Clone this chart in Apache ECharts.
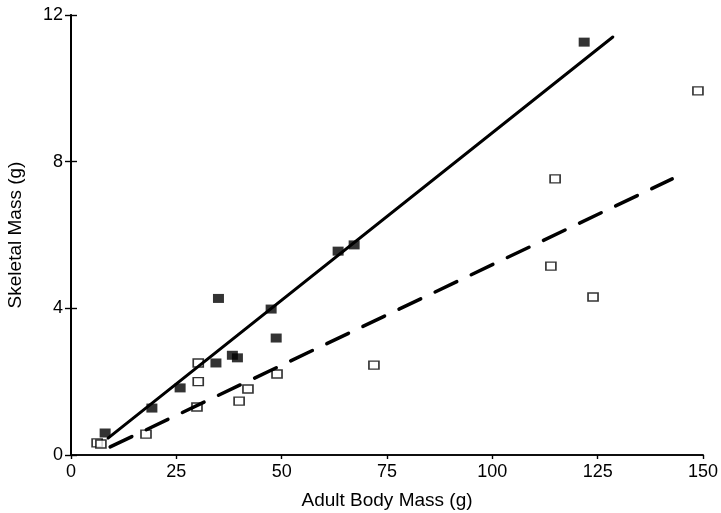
<!DOCTYPE html>
<html>
<head>
<meta charset="utf-8">
<script src="https://cdn.jsdelivr.net/npm/echarts@6/dist/echarts.min.js"></script>
<style>
  html, body { margin: 0; padding: 0; background: #fff; }
  #chart { width: 721px; height: 513px; }
</style>
</head>
<body>
<div id="chart"></div>
<script>
// filled squares, solid regression line
const filledMass = [8.1, 19.2, 25.9, 34.4, 35.0, 38.3, 39.5, 47.5, 48.7, 63.4, 67.2, 121.8];
const filledSkeleton = [0.60, 1.28, 1.83, 2.51, 4.27, 2.72, 2.65, 3.98, 3.19, 5.56, 5.73, 11.26];
// open squares, dashed regression line
const openMass = [6.2, 7.1, 17.8, 29.9, 30.2, 30.2, 39.9, 42.0, 48.9, 71.9, 113.9, 114.9, 123.9, 148.8];
const openSkeleton = [0.33, 0.30, 0.57, 1.31, 2.00, 2.51, 1.47, 1.80, 2.21, 2.45, 5.15, 7.53, 4.31, 9.93];
// fitted lines (end points)
const solidFitX = [8.8, 128.6];
const solidFitY = [0.46, 11.4];
const dashFitX = [9.3, 142.7];
const dashFitY = [0.22, 7.53];

const xTicks = [0, 25, 50, 75, 100, 125, 150];
const yTicks = [0, 4, 8, 12];

const zip = (xs, ys) => xs.map((x, i) => [x, ys[i]]);

const font = 'Liberation Sans, Arial, Helvetica, sans-serif';
const axisLine = { show: true, lineStyle: { color: '#000', width: 1.6 } };

const chart = echarts.init(document.getElementById('chart'));
chart.setOption({
  animation: false,
  backgroundColor: '#fff',
  grid: { left: 71, right: 18, top: 15, bottom: 58, outerBoundsMode: 'none', containLabel: false },
  xAxis: [
    {
      type: 'value',
      position: 'bottom',
      min: xTicks[0],
      max: xTicks[xTicks.length - 1],
      interval: 25,
      axisLine: axisLine,
      axisTick: { show: true, length: 4, lineStyle: { color: '#000', width: 1.4 } },
      axisLabel: { color: '#000', fontSize: 18, fontFamily: font, margin: 8 },
      splitLine: { show: false },
      name: 'Adult Body Mass (g)',
      nameLocation: 'middle',
      nameGap: 36,
      nameTextStyle: { color: '#000', fontSize: 19, fontFamily: font },
    },
    {
      type: 'value',
      position: 'top',
      min: 0,
      max: 150,
      interval: 25,
      axisLine: axisLine,
      axisTick: { show: false },
      axisLabel: { show: false },
      splitLine: { show: false },
    },
  ],
  yAxis: [
    {
      type: 'value',
      position: 'left',
      min: yTicks[0],
      max: yTicks[yTicks.length - 1],
      interval: 4,
      axisLine: { show: true, lineStyle: { color: '#000', width: 2 } },
      axisTick: { show: true, length: 6, lineStyle: { color: '#000', width: 1.4 } },
      axisLabel: { color: '#000', fontSize: 18, fontFamily: font, margin: 8 },
      splitLine: { show: false },
      name: 'Skeletal Mass (g)',
      nameLocation: 'middle',
      nameGap: 46,
      nameTextStyle: { color: '#000', fontSize: 19, fontFamily: font },
    },
    {
      type: 'value',
      position: 'right',
      min: 0,
      max: 12,
      interval: 4,
      axisLine: axisLine,
      axisTick: { show: true, length: 6, lineStyle: { color: '#000', width: 1.4 } },
      axisLabel: { show: false },
      splitLine: { show: false },
    },
  ],
  series: [
    {
      type: 'line',
      data: zip(solidFitX, solidFitY),
      showSymbol: false,
      lineStyle: { color: '#000', width: 3, cap: 'round' },
      silent: true,
    },
    {
      type: 'line',
      data: zip(dashFitX, dashFitY),
      showSymbol: false,
      lineStyle: { color: '#000', width: 3.5, type: [24, 16], cap: 'round' },
      silent: true,
    },
    {
      type: 'scatter',
      data: zip(openMass, openSkeleton),
      symbol: 'rect',
      symbolSize: [10, 8],
      itemStyle: { color: '#fff', borderColor: '#000', borderWidth: 1.5 },
    },
    {
      type: 'scatter',
      data: zip(filledMass, filledSkeleton),
      symbol: 'rect',
      symbolSize: [11, 9],
      itemStyle: { color: '#000' },
    },
  ],
});
</script>
</body>
</html>
